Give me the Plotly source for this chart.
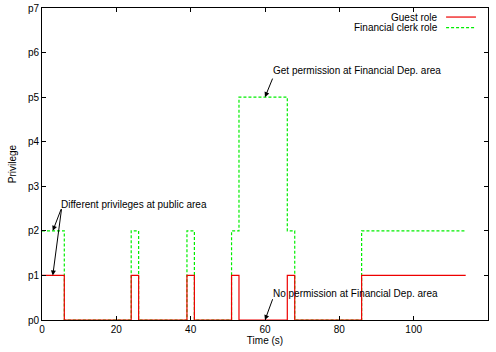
import plotly.graph_objects as go

# Data
time_s = [0, 6, 24, 26, 39, 41, 51, 53, 66, 68, 86, 114]
guest_role = [1, 0, 1, 0, 1, 0, 1, 0, 1, 0, 1, 1]
clerk_role = [2, 0, 2, 0, 2, 0, 2, 5, 2, 0, 2, 2]
y_tick_vals = [0, 1, 2, 3, 4, 5, 6, 7]
y_tick_text = ["p0", "p1", "p2", "p3", "p4", "p5", "p6", "p7"]
x_tick_vals = [0, 20, 40, 60, 80, 100, 120]

FONT = "Liberation Sans, Arial, sans-serif"
FS = 10

fig = go.Figure()
fig.add_trace(go.Scatter(x=time_s, y=clerk_role, mode="lines", line_shape="hv",
                         line=dict(color="#00ee00", width=1.2, dash="3px,2px"),
                         name="Financial clerk role", showlegend=False))
fig.add_trace(go.Scatter(x=time_s, y=guest_role, mode="lines", line_shape="hv",
                         line=dict(color="#ee0000", width=1.2),
                         name="Guest role", showlegend=False))

# Annotations
ann = []
def txt(x, y, s):
    ann.append(dict(x=x, y=y, xref="x", yref="y", text=s, showarrow=False,
                    xanchor="left", yanchor="middle", font=dict(size=FS, color="black", family=FONT)))
def arrow(x, y, ax, ay):
    ann.append(dict(x=x, y=y, xref="x", yref="y", ax=ax, ay=ay, axref="x", ayref="y",
                    text="", showarrow=True, arrowhead=2, arrowsize=1, arrowwidth=1, arrowcolor="black"))

txt(61.6, 5.59, "Get permission at Financial Dep. area")
arrow(60, 5, 62.2, 5.45)
txt(4.6, 2.6, "Different privileges at public area")
arrow(2.9, 2, 5.3, 2.52)
arrow(2.9, 1, 5.3, 2.52)
txt(61.6, 0.59, "No permission at Financial Dep. area")
arrow(60, 0, 62.2, 0.5)

# Manual legend (text left of sample, gnuplot style)
ann.append(dict(x=0.893, y=0.971, xref="paper", yref="paper", text="Guest role", showarrow=False,
                xanchor="right", yanchor="middle", font=dict(size=FS, color="black", family=FONT)))
ann.append(dict(x=0.893, y=0.937, xref="paper", yref="paper", text="Financial clerk role", showarrow=False,
                xanchor="right", yanchor="middle", font=dict(size=FS, color="black", family=FONT)))
shapes = [
    dict(type="line", xref="paper", yref="paper", x0=0.906, x1=0.973, y0=0.971, y1=0.971,
         line=dict(color="#ee0000", width=1.2)),
    dict(type="line", xref="paper", yref="paper", x0=0.906, x1=0.973, y0=0.937, y1=0.937,
         line=dict(color="#00ee00", width=1.2, dash="3px,2px")),
]

axis_common = dict(showline=True, linecolor="black", linewidth=1, mirror="ticks",
                   ticks="inside", ticklen=4, tickcolor="black", showgrid=False, zeroline=False,
                   automargin=False,
                   tickfont=dict(size=FS, color="black", family=FONT))

fig.update_layout(
    width=496, height=352,
    margin=dict(l=42, r=8, t=8, b=32),
    paper_bgcolor="white", plot_bgcolor="white",
    annotations=ann, shapes=shapes,
    xaxis=dict(range=[0, 120], tickvals=x_tick_vals,
               title=dict(text="Time (s)", font=dict(size=FS, color="black", family=FONT), standoff=0),
               **axis_common),
    yaxis=dict(range=[0, 7], tickvals=y_tick_vals, ticktext=y_tick_text,
               title=dict(text="Privilege", font=dict(size=FS, color="black", family=FONT), standoff=9),
               **axis_common),
)

fig.write_html("out.html", config={"displayModeBar": False},
               post_script="document.body.style.margin='0';")
